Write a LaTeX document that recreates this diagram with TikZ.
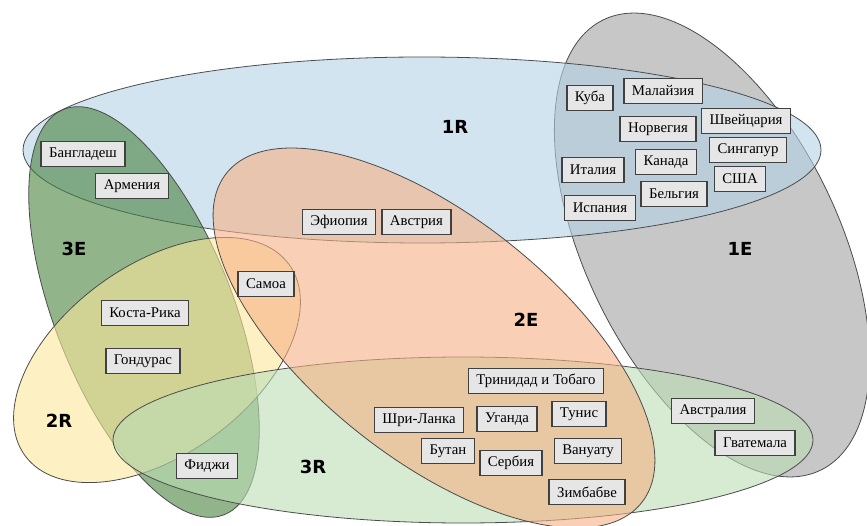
\documentclass[tikz,border=0pt]{standalone}
\usepackage{fontspec}
\setmainfont{Liberation Serif}
\newfontfamily\setfont{DejaVu Sans}
\usetikzlibrary{positioning}
\definecolor{fillR1}{RGB}{180,210,230}
\definecolor{fillE1}{RGB}{163,163,163}
\definecolor{fillE2}{RGB}{245,177,133}
\definecolor{fillR2}{RGB}{252,232,157}
\definecolor{fillE3}{RGB}{72,130,63}
\definecolor{fillR3}{RGB}{188,222,180}
\definecolor{boxgray}{RGB}{230,230,230}

\begin{document}
\begin{tikzpicture}[
  x=1pt, y=-1pt,
  % --- Styles ---
  venn/.style={draw=black!70, line width=0.8pt, fill opacity=0.6},
  country/.style={
    rectangle, draw=black!75, line width=1.3pt, fill=boxgray,
    inner xsep=8pt, inner ysep=3pt, minimum height=25pt,
    font=\fontsize{14.8}{16}\selectfont
  },
  setname/.style={font=\setfont\bfseries\fontsize{18}{20}\selectfont}
]
\useasboundingbox (0,0) rectangle (867,526);

% ---- Sets ----
\fill[white] (0,0) rectangle (867,526);
\draw[venn, fill=fillE1, rotate around={25.7:(712,245)}] (712,245) ellipse [x radius=127, y radius=250];
\draw[venn, fill=fillR1] (422,150) ellipse [x radius=399, y radius=93];
\draw[venn, fill=fillE3, rotate around={21.6:(144,312)}] (144,312) ellipse [x radius=89, y radius=218];
\draw[venn, fill=fillR2, rotate around={35.8:(157,360)}] (157,360) ellipse [x radius=163, y radius=95];
\draw[venn, fill=fillR3] (463,440) ellipse [x radius=350, y radius=83];
\draw[venn, fill=fillE2, rotate around={-38.4:(434,338)}] (434,338) ellipse [x radius=265, y radius=121];

% ---- Set labels ----
\node[setname] (r1) at (455,127) {1R};
\node[setname] (e1) at (740,249) {1E};
\node[setname] (e2) at (526,320) {2E};
\node[setname] (e3) at (74,249)  {3E};
\node[setname] (r2) at (59,421)  {2R};
\node[setname] (r3) at (313,467) {3R};

% ---- 1R and 1E ----
\node[country] (cuba)   at (590,98)  {Куба};
\node[country] (malay)  at (663,91)  {Малайзия};
\node[country] (norway) at (658,129) {Норвегия};
\node[country] (swiss)  at (746,121) {Швейцария};
\node[country] (singa)  at (748,150) {Сингапур};
\node[country] (italy)  at (593,170) {Италия};
\node[country] (canada) at (666,162) {Канада};
\node[country] (usa)    at (740,179) {США};
\node[country] (belg)   at (674,194) {Бельгия};
\node[country] (spain)  at (600,208) {Испания};

% ---- 1R and 3E ----
\node[country] (bangl)  at (83,154)  {Бангладеш};
\node[country] (armen)  at (132,186) {Армения};

% ---- 1R and 2E ----
\node[country] (ethio)  at (339,222) {Эфиопия};
\node[country, right=5pt of ethio] (austria) {Австрия};

% ---- 2R, 2E, 3E ----
\node[country] (samoa)  at (266,284) {Самоа};
\node[country] (costa)  at (145,313) {Коста-Рика};
\node[country] (hond)   at (143,361) {Гондурас};
\node[country] (fiji)   at (207,466) {Фиджи};

% ---- 2E and 3R ----
\node[country] (trini)  at (536,381) {Тринидад и Тобаго};
\node[country] (srilan) at (419,420) {Шри-Ланка};
\node[country] (uganda) at (507,419) {Уганда};
\node[country] (tunis)  at (579,414) {Тунис};
\node[country] (bhutan) at (448,451) {Бутан};
\node[country] (serbia) at (511,463) {Сербия};
\node[country] (vanua)  at (588,451) {Вануату};
\node[country] (zimb)   at (587,492) {Зимбабве};

% ---- 1E and 3R ----
\node[country] (austral) at (713,411) {Австралия};
\node[country] (guate)   at (755,443) {Гватемала};

\end{tikzpicture}
\end{document}
